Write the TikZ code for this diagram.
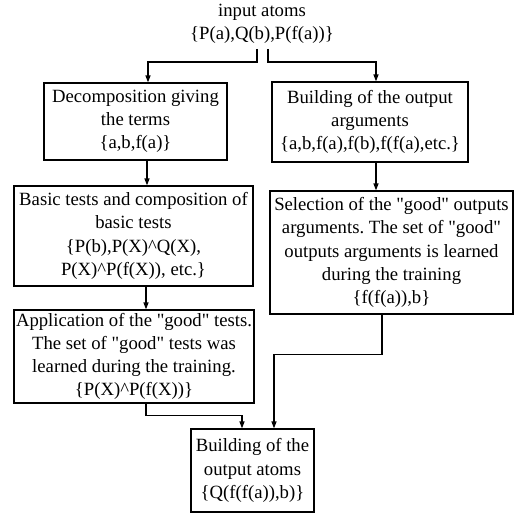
\documentclass[tikz,border=0pt]{standalone}
\usepackage{fontspec}
\setmainfont{Liberation Serif}
\usetikzlibrary{arrows.meta}
\newcommand{\qq}{\textquotedbl}
\frenchspacing
\begin{document}
\frenchspacing
\begin{tikzpicture}[x=1pt,y=-1pt,
  txt/.style={font=\fontsize{18.7pt}{23.2pt}\selectfont\frenchspacing, align=center, inner sep=0pt},
  boxnode/.style={txt, draw, line width=1.2pt, rectangle},
  arr/.style={line width=1.2pt, -{Triangle[length=7pt,width=5pt]}}]
\useasboundingbox (0,0) rectangle (514,515);
\node[txt, inner ysep=5pt] (in) at (262,24) {input atoms\\\{P(a),Q(b),P(f(a))\}};
\node[boxnode, minimum width=183pt, minimum height=77pt] (B1) at (135.5,121.5)
  {Decomposition giving\\the terms\\\{a,b,f(a)\}};
\node[boxnode, minimum width=196pt, minimum height=80pt] (R1) at (370,122)
  {Building of the output\\arguments\\\{a,b,f(a),f(b),f(f(a),etc.\}};
\node[boxnode, minimum width=239pt, minimum height=100pt] (B2) at (133.5,236)
  {Basic tests and composition of\\basic tests\\\{P(b),P(X)\textasciicircum Q(X),\\P(X)\textasciicircum P(f(X)), etc.\}};
\node[boxnode, minimum width=243pt, minimum height=123pt] (R2) at (391.5,252.5)
  {Selection of the \qq good\qq{} outputs\\arguments. The set of \qq good\qq\\outputs arguments is learned\\during the training\\\{f(f(a)),b\}};
\node[boxnode, minimum width=240pt, minimum height=93pt] (B3) at (134,356.5)
  {Application of the \qq good\qq{} tests.\\The set of \qq good\qq{} tests was\\learned during the training.\\\{P(X)\textasciicircum P(f(X))\}};
\node[boxnode, minimum width=123pt, minimum height=83pt] (B4) at (252.5,470.5)
  {Building of the\\output atoms\\\{Q(f(f(a)),b)\}};
\draw[arr] ([xshift=-5pt]in.south) -- ([xshift=-5pt,yshift=-13pt]in.south) -| ([xshift=12.5pt]B1.north);
\draw[arr] ([xshift=6pt]in.south) -- ([xshift=6pt,yshift=-13pt]in.south) -| ([xshift=6pt]R1.north);
\draw[arr] ([xshift=11.5pt]B1.south) -- ([xshift=11.5pt]B1.south |- B2.north);
\draw[arr] ([xshift=6pt]R1.south) -- ([xshift=6pt]R1.south |- R2.north);
\draw[arr] ([xshift=12.5pt]B2.south) -- ([xshift=12.5pt]B2.south |- B3.north);
\draw[arr] ([xshift=12pt]B3.south) -- ([xshift=12pt,yshift=-12pt]B3.south) -| ([xshift=-10.5pt]B4.north);
\draw[arr] ([xshift=-9.5pt]R2.south) -- ([xshift=-9.5pt,yshift=-40pt]R2.south) -| ([xshift=21.5pt]B4.north);
\end{tikzpicture}
\end{document}
